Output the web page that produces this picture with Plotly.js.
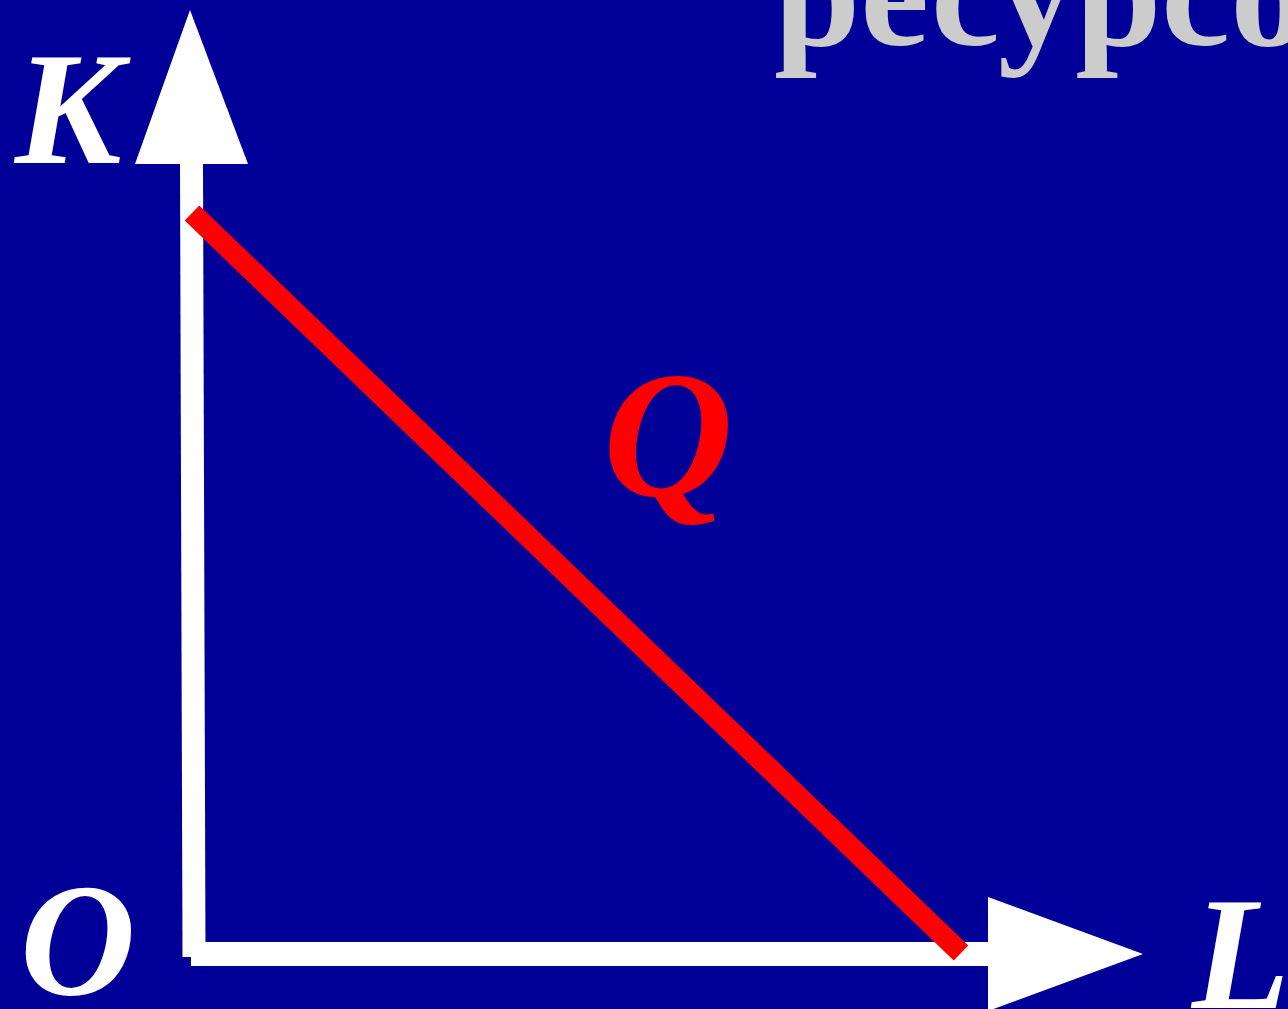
<!DOCTYPE html>
<html>
<head>
<meta charset="utf-8">
<script src="https://cdn.plot.ly/plotly-3.0.1.min.js"></script>
<style>html,body{margin:0;padding:0;background:#000099;}#chart{width:1288px;height:1009px;}</style>
</head>
<body>
<div id="chart"></div>
<script>
// Diagram geometry in chart units (origin O = where the axes meet)
const kAxisX = [1, -1.5];
const kAxisY = [-4, 789];
const lAxisX = [-2, 795];
const lAxisY = [-1, -1];
const kArrowX = [-3, -58, 55, -3];
const kArrowY = [943, 789, 789, 943];
const lArrowX = [950, 795, 795, 950];
const lArrowY = [-1, 56, -58, -1];
const isoquantX = [-1, 768];
const isoquantY = [740, 0];

const labels = ["K", "O", "L", "Q"];
const labelX = [-121, -115, 995, 475];
const labelY = [844, 13, -1, 518];
const titleText = "ресурсов";

const white = "#FFFFFF";
const traces = [
  {x: kAxisX, y: kAxisY, mode: "lines", line: {color: white, width: 23}, hoverinfo: "skip"},
  {x: lAxisX, y: lAxisY, mode: "lines", line: {color: white, width: 24}, hoverinfo: "skip"},
  {x: kArrowX, y: kArrowY, mode: "lines", fill: "toself", fillcolor: white, line: {color: white, width: 0}, hoverinfo: "skip"},
  {x: lArrowX, y: lArrowY, mode: "lines", fill: "toself", fillcolor: white, line: {color: white, width: 0}, hoverinfo: "skip"},
  {x: isoquantX, y: isoquantY, mode: "lines", line: {color: "#FF0000", width: 21}, hoverinfo: "skip"}
];

const font = "'Liberation Serif', 'Times New Roman', serif";
const ann = labels.map((t, i) => ({
  x: labelX[i], y: labelY[i], xref: "x", yref: "y",
  text: "<b><i>" + t + "</i></b>", showarrow: false,
  xanchor: t === "L" ? "left" : "center", yanchor: "middle",
  font: {family: font, size: t === "Q" ? 180 : 160, color: t === "Q" ? "#FF0000" : white}
}));
ann.push({
  x: 579, y: 872, xref: "x", yref: "y", text: "<b>" + titleText + "</b>",
  showarrow: false, xanchor: "left", yanchor: "bottom",
  font: {family: font, size: 155, color: "#CCCCCC"}
});

const layout = {
  width: 1288, height: 1009,
  margin: {l: 0, r: 0, t: 0, b: 0},
  paper_bgcolor: "#000099", plot_bgcolor: "#000099",
  showlegend: false,
  xaxis: {range: [-193, 1095], visible: false, fixedrange: true},
  yaxis: {range: [-56, 953], visible: false, fixedrange: true},
  annotations: ann
};
Plotly.newPlot("chart", traces, layout, {staticPlot: true, displayModeBar: false});
</script>
</body>
</html>
